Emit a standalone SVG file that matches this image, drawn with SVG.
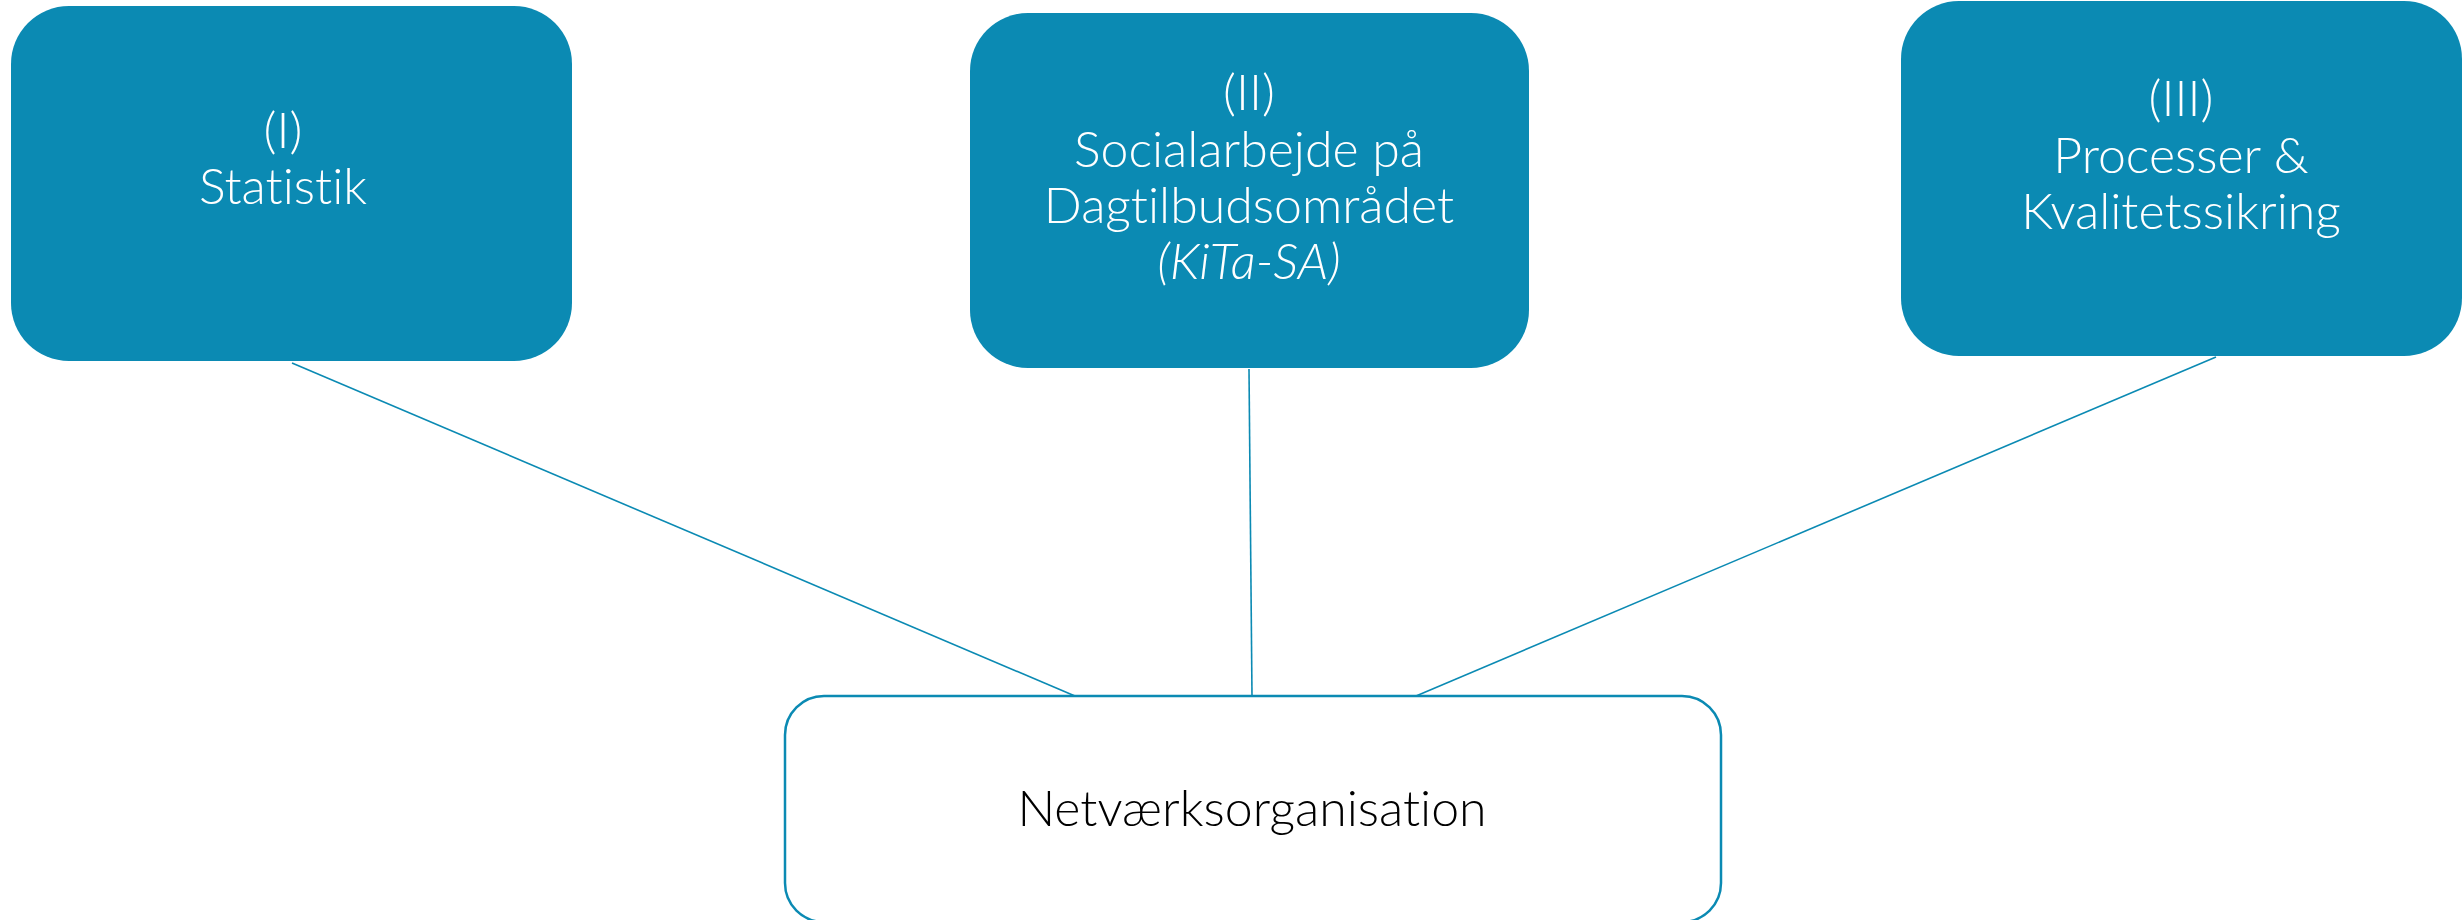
<svg xmlns="http://www.w3.org/2000/svg" width="2464" height="920" viewBox="0 0 2464 920">
<style>
.box{fill:#0B8AB3;}
.lbl{font-family:Lato,"Open Sans","Liberation Sans",sans-serif;font-size:50px;font-weight:300;fill:#FFFFFF;text-anchor:middle;font-variant-ligatures:none;}
.conn{stroke:#0B8AB3;stroke-width:1.6;fill:none;}
.net{fill:#FFFFFF;stroke:#0B8AB3;stroke-width:2.5;}
.dark{fill:#000000;}
</style>
<rect width="2464" height="920" fill="#FFFFFF"/>
<g id="connectors">
<line class="conn" x1="292" y1="363" x2="1075" y2="696"/>
<line class="conn" x1="1249" y1="369" x2="1252" y2="696"/>
<line class="conn" x1="2216" y1="357" x2="1416" y2="696"/>
</g>
<g id="node-statistik">
<rect class="box" x="11" y="6" width="561" height="355" rx="58" ry="58"/>
<text class="lbl" x="283" y="148">(I)</text>
<text class="lbl" x="283" y="204">Statistik</text>
</g>
<g id="node-kita-sa">
<rect class="box" x="970" y="13" width="559" height="355" rx="58" ry="58"/>
<text class="lbl" x="1249" y="110">(II)</text>
<text class="lbl" x="1249" y="167">Socialarbejde på</text>
<text class="lbl" x="1249" y="223">Dagtilbudsområdet</text>
<text class="lbl" x="1249" y="279" font-style="italic">(KiTa-SA)</text>
</g>
<g id="node-processer">
<rect class="box" x="1901" y="1" width="561" height="355" rx="58" ry="58"/>
<text class="lbl" x="2181" y="116">(III)</text>
<text class="lbl" x="2181" y="173">Processer &amp;</text>
<text class="lbl" x="2181" y="229">Kvalitetssikring</text>
</g>
<g id="node-netvaerk">
<rect class="net" x="785" y="696" width="936" height="226" rx="39" ry="39"/>
<text class="lbl dark" x="1252" y="826">Netværksorganisation</text>
</g>
</svg>
